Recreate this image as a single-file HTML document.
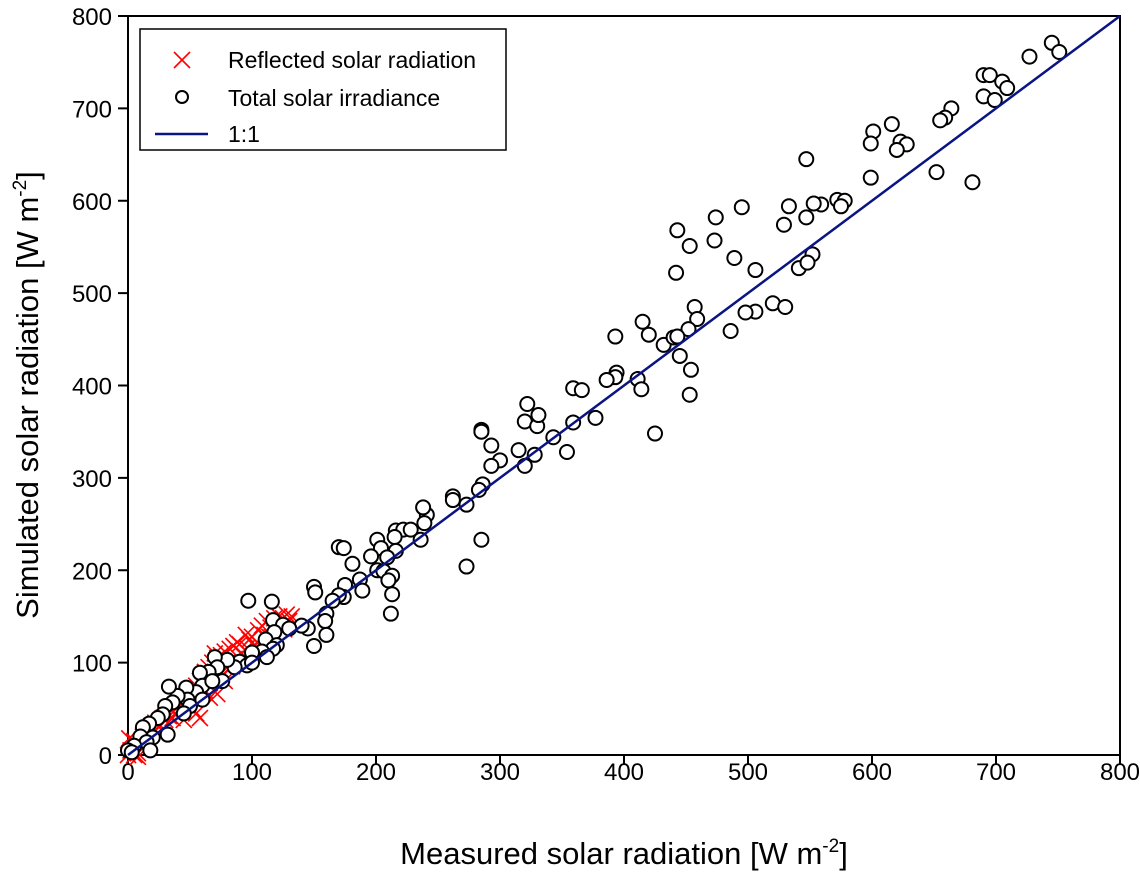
<!DOCTYPE html>
<html><head><meta charset="utf-8"><style>
body{margin:0;background:#fff;}
svg text{font-family:"Liberation Sans",Arial,sans-serif;}
</style></head><body>
<svg id="chart" width="1140" height="873" xmlns="http://www.w3.org/2000/svg"></svg>
<script>
const xTicks=[0,100,200,300,400,500,600,700,800];
const yTicks=[0,100,200,300,400,500,600,700,800];
const totalX=[745,751,727,690,695,705,709,690,699,664,659,655,616,601,623,628,620,599,599,652,681,547,572,578,559,553,533,575,495,474,547,529,443,473,453,489,506,442,541,552,548,520,530,506,498,486,457,459,452,415,420,432,440,443,445,454,393,394,393,411,414,386,359,366,453,359,377,425,354,320,330,322,331,343,315,328,320,293,300,293,285,285,286,283,241,262,262,273,238,239,236,285,273,216,222,228,215,216,201,204,196,209,201,206,213,210,213,212,170,174,181,175,187,189,174,170,165,150,151,160,159,160,150,145,140,97,116,117,125,118,111,120,117,108,112,100,90,96,86,80,76,70,72,65,58,60,55,47,48,50,40,33,36,30,28,24,17,12,20,10,15,32,18,5,0,3,45,68,130,100,60];
const totalY=[771,761,756,736,736,729,722,713,709,700,690,687,683,675,664,661,655,662,625,631,620,645,601,600,596,597,594,594,593,582,582,574,568,557,551,538,525,522,527,542,533,489,485,480,479,459,485,472,461,469,455,444,452,453,432,417,453,414,409,407,396,406,397,395,390,360,365,348,328,361,356,380,368,344,330,325,313,335,319,313,352,350,293,287,260,280,276,271,268,251,233,233,204,243,244,244,236,221,233,224,215,214,200,199,194,189,174,153,225,224,207,184,190,178,171,173,167,182,176,153,145,130,118,137,140,167,166,146,141,133,125,119,115,112,106,111,101,97,95,103,80,106,95,90,89,75,68,73,60,53,64,74,57,53,44,40,34,30,19,20,14,22,5,10,5,3,45,80,137,100,60];
const reflX=[2,5,8,10,12,15,20,22,25,28,30,33,35,38,40,42,45,48,50,52,55,58,60,62,65,68,70,72,75,78,80,82,85,88,90,92,95,98,100,105,108,110,112,115,118,120,122,125,128,130,132,55,58,52,45,75,80,70,65,62,5,3,0,8,14,18,26,36,44,64,74,86,96,104,114,124,66,72,78,84,90,102,106,116,126,1];
const reflY=[5,15,2,10,20,18,28,35,30,40,38,42,48,45,55,50,60,58,70,65,75,80,85,90,95,100,110,105,108,112,100,115,118,122,120,110,130,125,128,135,140,130,145,138,148,142,150,148,152,145,150,45,40,50,38,85,95,90,85,70,0,5,0,-2,12,22,32,40,52,78,90,104,116,122,128,140,62,66,80,96,100,118,112,128,136,18];
const NS="http://www.w3.org/2000/svg";
const svg=document.getElementById('chart');
const X0=128,X1=1120,Y0=755,Y1=16;
const sx=v=>X0+(X1-X0)*v/800, sy=v=>Y0-(Y0-Y1)*v/800;
function mk(t,a,p){const e=document.createElementNS(NS,t);for(const k in a)e.setAttribute(k,a[k]);(p||svg).appendChild(e);return e;}
let e=mk('rect',{x:X0,y:Y1,width:X1-X0,height:Y0-Y1,fill:'none',stroke:'#000','stroke-width':2});


xTicks.forEach(v=>{
 let l=mk('line',{x1:sx(v),x2:sx(v),y1:Y0,y2:Y0+10,stroke:'#000','stroke-width':2});
 
 
 let t=mk('text',{x:sx(v),y:Y0+25,'text-anchor':'middle','font-size':24});t.textContent=v;
 
 
});
yTicks.forEach(v=>{
 let l=mk('line',{x1:X0-10,x2:X0,y1:sy(v),y2:sy(v),stroke:'#000','stroke-width':2});
 
 
 let t=mk('text',{x:X0-16,y:sy(v)+9,'text-anchor':'end','font-size':24});t.textContent=v;
 
 
});
function cross(cx,cy,s,p){const g=mk('g',{stroke:'#f00','stroke-width':1.6},p);mk('line',{x1:cx-s,y1:cy-s,x2:cx+s,y2:cy+s},g);mk('line',{x1:cx-s,y1:cy+s,x2:cx+s,y2:cy-s},g);return g;}
reflX.forEach((v,i)=>{const g=cross(sx(v),sy(reflY[i]),8);
 
 });
totalX.forEach((v,i)=>{const c=mk('circle',{cx:sx(v),cy:sy(totalY[i]),r:7,fill:'#fff',stroke:'#000','stroke-width':2});
 
 });
e=mk('line',{x1:sx(0),y1:sy(0),x2:sx(800),y2:sy(800),stroke:'#0a1482','stroke-width':2.5});


const lg=mk('g',{});


mk('rect',{x:140,y:29,width:366,height:121,fill:'#fff',stroke:'#000','stroke-width':1.5},lg);
cross(182,60,8,lg);
mk('circle',{cx:182,cy:97,r:6,fill:'#fff',stroke:'#000','stroke-width':2},lg);
mk('line',{x1:155,x2:208,y1:134,y2:134,stroke:'#0a1482','stroke-width':2.5},lg);
[['Reflected solar radiation',68],['Total solar irradiance',106],['1:1',142]].forEach(([s,y])=>{const t=mk('text',{x:228,y:y,'font-size':23},lg);t.textContent=s;
 
 });
let xt=mk('text',{x:624,y:864,'text-anchor':'middle','font-size':31});
xt.innerHTML='Measured solar radiation [W m<tspan dy="-12" font-size="19">-2</tspan><tspan dy="12">]</tspan>';


let yt=mk('text',{x:0,y:0,'text-anchor':'middle','font-size':31,transform:'translate(38,395) rotate(-90)'});
yt.innerHTML='Simulated solar radiation [W m<tspan dy="-12" font-size="19">-2</tspan><tspan dy="12">]</tspan>';


</script>
</body></html>
